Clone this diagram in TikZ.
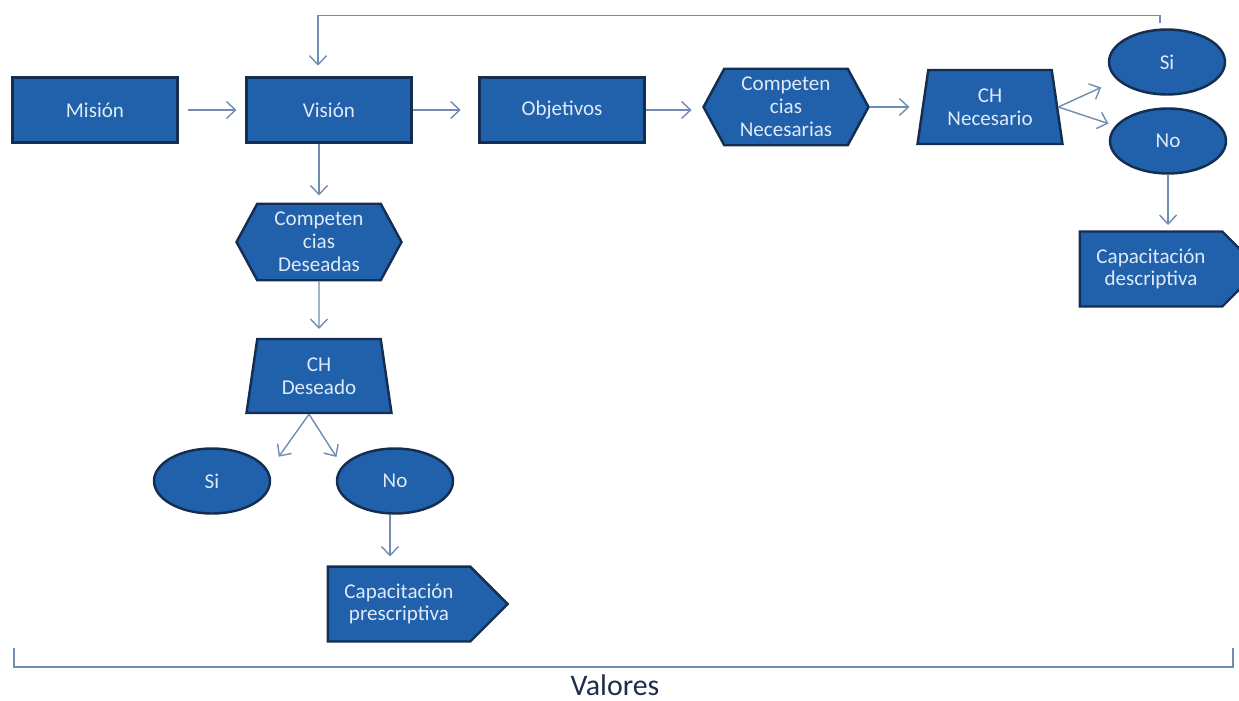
\documentclass[tikz,border=0pt]{standalone}
\usepackage{fontspec}
\setmainfont{Carlito}
\usepackage{xcolor}
\usetikzlibrary{shapes.geometric,shapes.symbols,arrows.meta}

\definecolor{azul}{RGB}{33,96,170}
\definecolor{borde}{RGB}{20,46,82}
\definecolor{letra}{RGB}{222,234,248}
\definecolor{linea}{RGB}{112,140,178}
\definecolor{oscuro}{RGB}{30,45,75}

\begin{document}
\begin{tikzpicture}[x=0.02cm,y=-0.02cm,
  base/.style={fill=azul,draw=borde,line width=1.4pt,text=letra,align=center,
    inner sep=1pt,font=\fontsize{12}{13}\selectfont},
  caja/.style={base,rectangle,minimum width=3.3cm,minimum height=1.3cm},
  hexa/.style={base,signal,signal to=east and west,signal pointer angle=123,
    minimum width=3.3cm,minimum height=1.53cm},
  trap/.style={base,trapezium,trapezium left angle=75,trapezium right angle=75,
    trapezium stretches body,minimum width=2.9cm,minimum height=1.48cm},
  elip/.style={base,ellipse,minimum width=2.32cm,minimum height=1.3cm},
  flecha/.style={base,signal,signal to=east,signal pointer angle=90,
    minimum width=3.6cm,minimum height=1.5cm},
  con/.style={draw=linea,line width=0.8pt,-{Straight Barb[length=1.8mm,width=3.4mm]}}]
\useasboundingbox (0,0) rectangle (1239,700);

% fila superior
\node[caja] (mision) at (95,110) {Misión};
\node[caja] (vision) at (329,110) {Visión};
\node[caja] (objetivos) at (562,110) {Objetivos};
\node[hexa] (necesarias) at (786,107) {Competen\\cias\\Necesarias};
\node[trap] (chnec) at (990,107) {CH\\Necesario};
\node[elip] (si2) at (1167,62) {Si};
\node[elip] (no2) at (1168,141) {No};
\node[flecha] (descriptiva) at (1151,269) {Capacitación\\descriptiva};

% columna izquierda
\node[hexa] (deseadas) at (319,242) {Competen\\cias\\Deseadas};
\node[trap] (chdes) at (319,376) {CH\\Deseado};
\node[elip] (si1) at (212,481) {Si};
\node[elip] (no1) at (395,481) {No};
\node[flecha] (prescriptiva) at (399,604) {Capacitación\\prescriptiva};

% conectores
\draw[con,shorten <=5pt,shorten >=5pt] (mision) -- (vision);
\draw[con,shorten >=10pt] (vision) -- (objetivos);
\draw[con,shorten >=6pt] (objetivos) -- (objetivos -| necesarias.west);
\draw[con,shorten >=7pt] (necesarias.east) -- (necesarias.east -| chnec.west);
\draw[con,shorten >=10pt] (chnec.east) -- (si2.200);
\draw[con,shorten >=4pt] (chnec.east) -- (no2.164);
\draw[con,shorten >=3pt] (no2.south) -- (no2.south |- descriptiva.north);
\draw[con,shorten <=3pt,shorten >=6pt] ([xshift=-0.14cm]si2.north) |- ++(0,-13)
  -| ([xshift=-0.22cm]vision.north);

\draw[con,shorten >=4pt] (deseadas.north |- vision.south) -- (deseadas.north);
\draw[con,shorten >=5pt] (deseadas) -- (chdes);
\draw[con,shorten >=10pt] ([xshift=-0.2cm]chdes.south) -- (si1.10);
\draw[con,shorten >=6pt] ([xshift=-0.2cm]chdes.south) -- (no1.164);
\draw[con,shorten >=5pt] ([xshift=-0.1cm]no1.south) -- ([xshift=-0.1cm]no1.south |- prescriptiva.north);

% llave de valores
\draw[draw=linea,line width=0.9pt] (14,648) |- (1233,667) -- (1233,648);
\node[text=oscuro,font=\fontsize{17}{20}\selectfont,anchor=base,inner sep=0pt] (valores) at (615,695) {Valores};
\end{tikzpicture}
\end{document}
